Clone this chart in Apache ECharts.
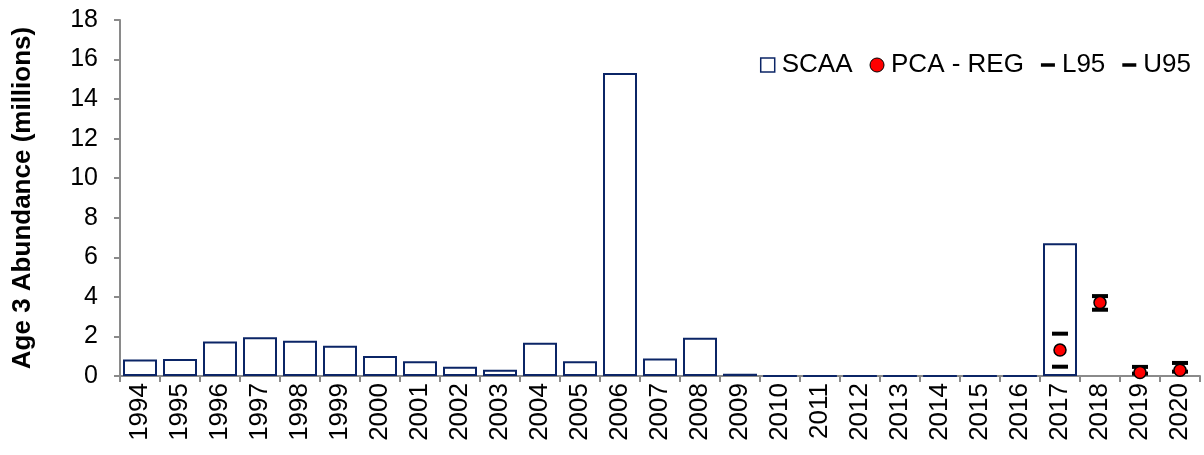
<!DOCTYPE html>
<html>
<head>
<meta charset="utf-8">
<script src="https://cdn.jsdelivr.net/npm/echarts@6/dist/echarts.min.js"></script>
<style>
html,body{margin:0;padding:0;background:#fff;}
#chart{width:1204px;height:455px;}
</style>
</head>
<body>
<div id="chart"></div>
<script>
const years = ['1994','1995','1996','1997','1998','1999','2000','2001','2002','2003','2004','2005','2006','2007','2008','2009','2010','2011','2012','2013','2014','2015','2016','2017','2018','2019','2020'];
const scaa = [0.84,0.86,1.75,1.96,1.78,1.53,1.01,0.74,0.47,0.32,1.68,0.74,15.32,0.89,1.94,0.12,0.01,0.01,0.01,0.01,0.01,0.01,0.01,6.71,null,null,null];
const pcaReg = [null,null,null,null,null,null,null,null,null,null,null,null,null,null,null,null,null,null,null,null,null,null,null,1.31,3.71,0.18,0.29];
const l95 = [null,null,null,null,null,null,null,null,null,null,null,null,null,null,null,null,null,null,null,null,null,null,null,0.47,3.35,0.12,0.22];
const u95 = [null,null,null,null,null,null,null,null,null,null,null,null,null,null,null,null,null,null,null,null,null,null,null,2.14,4.04,0.46,0.66];
const yTicks = [0,2,4,6,8,10,12,14,16,18];

const navy = '#0b2566';
const axisGray = '#8a8a8a';
const font = '"Liberation Sans", Arial, sans-serif';
const dashPath = 'path://M0,0 L16,0 L16,4 L0,4 Z';

const chart = echarts.init(document.getElementById('chart'), null, {renderer:'canvas'});
chart.setOption({
  animation: false,
  backgroundColor: '#fff',
  textStyle: {fontFamily: font, color: '#000'},
  grid: {left: 120, right: 4, top: 20, bottom: 79, containLabel: false},
  legend: {
    right: 8, top: 47,
    itemWidth: 14, itemHeight: 14, itemGap: 17,
    textStyle: {fontFamily: font, fontSize: 26, color: '#000', padding: [0,0,0,2]},
    data: [
      {name: 'SCAA', icon: 'rect', itemStyle: {color: '#fff', borderColor: navy, borderWidth: 1.5}},
      {name: 'PCA - REG', icon: 'circle', itemStyle: {color: '#ff0000', borderColor: '#000', borderWidth: 1}},
      {name: 'L95', icon: dashPath, itemStyle: {color: '#000', borderWidth: 0}},
      {name: 'U95', icon: dashPath, itemStyle: {color: '#000', borderWidth: 0}}
    ]
  },
  xAxis: {
    type: 'category',
    data: years,
    boundaryGap: true,
    axisLine: {lineStyle: {color: axisGray, width: 2}},
    axisTick: {show: true, length: 6, interval: 0, lineStyle: {color: axisGray, width: 2}},
    axisLabel: {rotate: 90, interval: 0, margin: 7, fontSize: 26, color: '#000', fontFamily: font},
    splitLine: {show: false}
  },
  yAxis: {
    type: 'value',
    min: 0, max: 18, interval: 2,
    name: 'Age 3 Abundance (millions)',
    nameLocation: 'middle',
    nameGap: 84,
    nameTextStyle: {fontSize: 26, fontWeight: 'bold', color: '#000', fontFamily: font},
    axisLine: {show: true, lineStyle: {color: axisGray, width: 2}},
    axisTick: {show: true, length: 6, lineStyle: {color: axisGray, width: 2}},
    axisLabel: {fontSize: 25, color: '#000', margin: 22, fontFamily: font,
      formatter: v => yTicks.includes(v) ? String(v) : ''},
    splitLine: {show: false}
  },
  series: [
    {
      name: 'SCAA', type: 'bar', data: scaa, barWidth: 34,
      itemStyle: {color: '#fff', borderColor: navy, borderWidth: 2},
      z: 2
    },
    {
      name: 'L95', type: 'scatter', data: l95, symbol: 'rect', symbolSize: [16,4],
      itemStyle: {color: '#000', opacity: 1}, z: 3
    },
    {
      name: 'U95', type: 'scatter', data: u95, symbol: 'rect', symbolSize: [16,4],
      itemStyle: {color: '#000', opacity: 1}, z: 3
    },
    {
      name: 'PCA - REG', type: 'scatter', data: pcaReg, symbol: 'circle', symbolSize: 12,
      itemStyle: {color: '#ff0000', borderColor: '#000', borderWidth: 1.5, opacity: 1}, z: 4
    }
  ]
});
</script>
</body>
</html>
